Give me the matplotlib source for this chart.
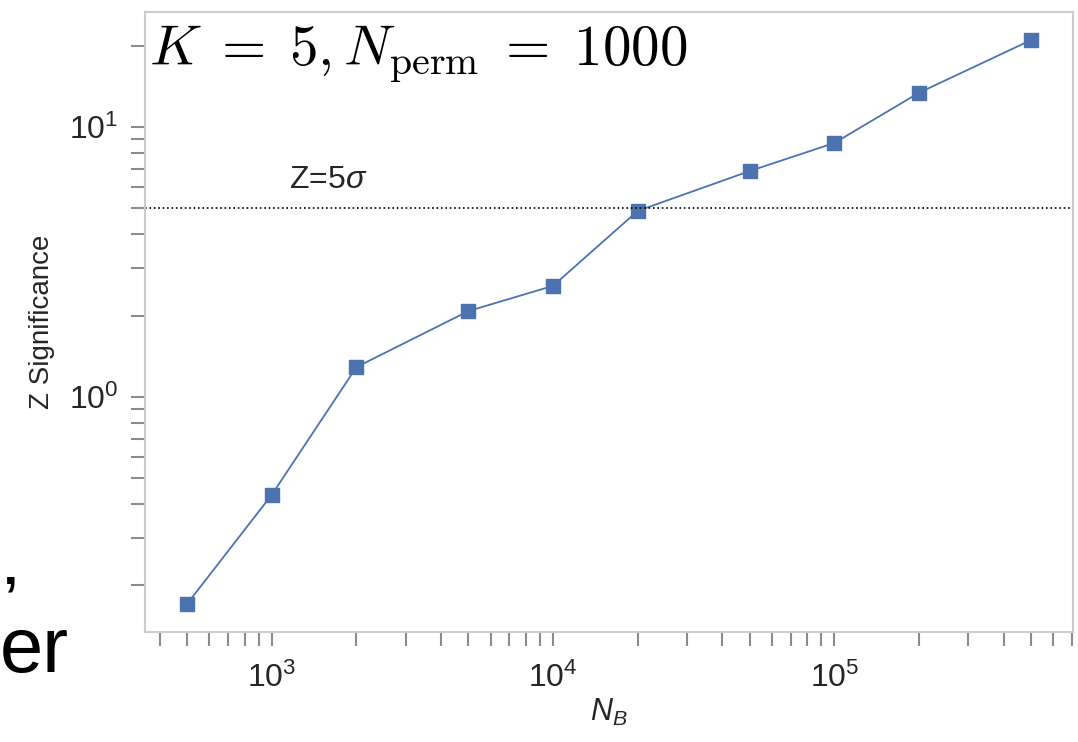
import matplotlib
matplotlib.use("Agg")
import matplotlib.pyplot as plt
import numpy as np

# Data
n_b = [500, 1000, 2000, 5000, 10000, 20000, 50000, 100000, 200000, 500000]
z_sig = [0.171, 0.434, 1.29, 2.08, 2.58, 4.89, 6.87, 8.73, 13.4, 21.0]
z_line = 5.0

plt.rcParams['font.family'] = ['Liberation Sans', 'DejaVu Sans']
plt.rcParams['mathtext.fontset'] = 'custom'
plt.rcParams['mathtext.rm'] = 'Liberation Sans'
plt.rcParams['mathtext.it'] = 'Liberation Sans:italic'
plt.rcParams['mathtext.bf'] = 'Liberation Sans:bold'

fig = plt.figure(figsize=(10.78, 7.42), dpi=100)
ax = fig.add_axes([145/1078, 1-632/742, (1073-145)/1078, (632-12)/742])

color = '#4c72b0'
ax.plot(n_b, z_sig, '-s', color=color, lw=1.3, markersize=10)
ax.set_xscale('log')
ax.set_yscale('log')
ax.axhline(z_line, color='black', ls=':', lw=1.2)
ax.text(0.155, (np.log10(z_line) - np.log10(0.135)) / (np.log10(26.7) - np.log10(0.135)) + 0.022,
        r'Z=5$\sigma$', transform=ax.transAxes, fontsize=23, color='#262626', ha='left', va='bottom')

ax.text(0.004, 0.983, r'$K\;=\;5,N_{\rm perm}\;=\;1000$', transform=ax.transAxes,
        fontsize=41, va='top', ha='left', math_fontfamily='cm')

for s in ax.spines.values():
    s.set_color('#cccccc')
    s.set_linewidth(1.5)

ax.tick_params(which='both', direction='out', length=10, width=1.5, color='#8c8c8c',
               labelcolor='#262626', labelsize=23)
ax.tick_params(axis='x', which='both', pad=12)
ax.tick_params(axis='y', which='both', pad=9)

ax.set_ylabel('Z Significance', fontsize=20, color='#262626', labelpad=10)
ax.set_xlabel(r'$N_B$', fontsize=22, color='#262626', labelpad=2)

# Artifacts from surrounding document in the screenshot
fig.text(0.0, 1-584/742, r'$\mathrm{.\!\!\!,}$', fontsize=48, color='black', ha='left', va='baseline')
fig.text(0.0, 1-672/742, 'er', fontsize=56, color='black', ha='left', va='baseline')

fig.savefig('out.png', dpi=100)
